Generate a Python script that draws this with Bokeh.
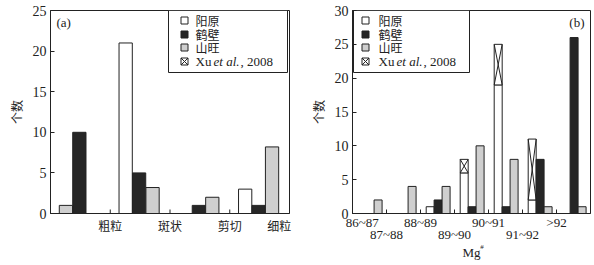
import numpy as np
from bokeh.plotting import figure
from bokeh.models import FixedTicker, Range1d, Label, LinearAxis
from bokeh.layouts import row
from bokeh.embed import file_html
from bokeh.resources import INLINE
from bokeh.core.properties import value

# ---------------- data ----------------
# panel (a): texture classes
cats_a = ["粗粒", "斑状", "剪切", "细粒"]
yang_a = [0, 21, 0, 3]        # 阳原
hebi_a = [10, 5, 1, 1]        # 鹤壁
shan_a = [1, 3.2, 2, 8.2]     # 山旺
yticks_a = [0, 5, 10, 15, 20, 25]

# panel (b): Mg# classes
cats_b = ["86~87", "87~88", "88~89", "89~90", "90~91", "91~92", ">92"]
yang_b = [0, 0, 1, 6, 19, 2, 0]     # 阳原
xu_b = [0, 0, 0, 2, 6, 9, 0]        # Xu et al., 2008 (stacked on 阳原)
hebi_b = [0, 0, 2, 1, 1, 8, 26]     # 鹤壁
shan_b = [2, 4, 4, 10, 8, 1, 1]     # 山旺
yticks_b = [0, 5, 10, 15, 20, 25, 30]

series = ["阳原", "鹤壁", "山旺"]
ylabel = "个数"
xlabel_b = "Mg"
xlabel_b_sup = "#"

# ---------------- style ----------------
INK = "#222222"
WHITE = "#ffffff"
BLACK = "#262626"
GRAY = "#cfcfcf"
SERIF = "Liberation Serif"
CJK = "Noto Sans CJK SC"
TOP = 10
FH = 203
BOT = 52
H = TOP + FH + BOT


def style_xaxis(ax):
    ax.major_tick_in = 0
    ax.major_tick_out = 0
    ax.major_tick_line_color = None
    ax.minor_tick_line_color = None
    ax.major_label_text_color = INK


def base_fig(width, nx, ymax, yticks, bl, br, ystand):
    p = figure(width=width, height=H, output_backend="svg", toolbar_location=None,
               x_range=Range1d(0, nx), y_range=Range1d(0, ymax),
               min_border_left=bl, min_border_right=br, min_border_top=TOP,
               min_border_bottom=BOT)
    p.grid.visible = False
    p.outline_line_color = INK
    p.outline_line_width = 1
    p.background_fill_color = WHITE
    p.border_fill_color = WHITE
    ya = p.yaxis[0]
    ya.ticker = FixedTicker(ticks=yticks, minor_ticks=[])
    ya.major_tick_in = 4
    ya.major_tick_out = 0
    ya.major_tick_line_color = INK
    ya.minor_tick_line_color = None
    ya.axis_line_color = INK
    ya.major_label_standoff = 4
    ya.major_label_text_font = SERIF
    ya.major_label_text_font_size = "14px"
    ya.major_label_text_color = INK
    ya.axis_label = ylabel
    ya.axis_label_text_font = CJK
    ya.axis_label_text_font_size = "12px"
    ya.axis_label_text_font_style = "normal"
    ya.axis_label_text_color = INK
    ya.axis_label_standoff = ystand
    xa = p.xaxis[0]
    style_xaxis(xa)
    xa.axis_line_color = INK
    # inward tick marks at the class boundaries
    bx = list(range(1, nx))
    tl = ymax * 4.0 / FH
    p.segment(x0=bx, y0=[0] * len(bx), x1=bx, y1=[tl] * len(bx), line_color=INK, line_width=1)
    return p


def bars(p, xs, vals, width, fill, bottoms=None):
    if bottoms is None:
        bottoms = [0] * len(vals)
    keep = [i for i, v in enumerate(vals) if v > 0]
    p.vbar(x=[xs[i] for i in keep], top=[bottoms[i] + vals[i] for i in keep],
           bottom=[bottoms[i] for i in keep], width=width,
           fill_color=fill, line_color=INK, line_width=1)


def legend(p, fw, nx, ymax, box, mark_x, text_x, rows):
    X = lambda px: px / fw * nx
    Y = lambda py: ymax * (1 - py / FH)
    p.quad(left=[X(box[0])], right=[X(box[1])], top=[Y(box[2])], bottom=[Y(box[3])],
           fill_color=WHITE, line_color=INK, line_width=1)
    p.scatter(x=[X(mark_x)] * 4, y=[Y(r) for r in rows],
              marker=["square", "square", "square", "square_x"], size=7,
              fill_color=[WHITE, BLACK, GRAY, WHITE], line_color=INK, line_width=1)
    p.text(x=[X(text_x)] * 3, y=[Y(r) for r in rows[:3]], text=series,
           text_font=value(CJK), text_font_size="12px", text_color=INK,
           text_baseline="middle", text_align="left")
    for t, off, st in [("Xu", 0, "normal"), ("et al.", 18, "italic"), (", 2008", 45, "normal")]:
        p.text(x=[X(text_x)], y=[Y(rows[3])], text=[t], x_offset=off,
               text_font=value(SERIF), text_font_size="13px", text_font_style=st,
               text_color=INK, text_baseline="middle", text_align="left")


# ---------------- panel (a) ----------------
FWA = 239
na = len(cats_a)
pa = base_fig(294, na, 25, yticks_a, 50, 294 - 50 - FWA, 5)
SLOT_A = [0.258, 0.483, 0.708]
WA = 0.222
gx = np.arange(na)
bars(pa, list(gx + SLOT_A[0]), yang_a, WA, WHITE)
bars(pa, list(gx + SLOT_A[1]), hebi_a, WA, BLACK)
shan_x_a = list(gx + SLOT_A[2])
shan_x_a[0] = 0 + SLOT_A[0]   # in the source figure the first 山旺 bar sits in the first slot
bars(pa, shan_x_a, shan_a, WA, GRAY)
# class labels at the right boundary of each class (last one pulled inside the frame)
lab_pos_a = [float(i + 1) for i in range(na)]
lab_pos_a[-1] = na - 0.17
xa = pa.xaxis[0]
xa.ticker = FixedTicker(ticks=lab_pos_a, minor_ticks=[])
xa.major_label_overrides = {t: c for t, c in zip(lab_pos_a, cats_a)}
xa.major_label_standoff = 3
xa.major_label_text_font = CJK
xa.major_label_text_font_size = "12px"
legend(pa, FWA, na, 25, (118, 237, 0, 62), 134, 145, [10, 24, 37, 51])
pa.add_layout(Label(x=6, y=FH - 12, x_units="screen", y_units="screen", text="(a)",
                    text_font=SERIF, text_font_size="13px", text_color=INK,
                    text_baseline="middle", text_align="left"))

# ---------------- panel (b) ----------------
FWB = 238
nb = len(cats_b)
pb = base_fig(298, nb, 30, yticks_b, 58, 298 - 58 - FWB, 5)
SLOT_B = [0.285, 0.5175, 0.7525]
WB = 0.235
gxb = np.arange(nb)
bars(pb, list(gxb + SLOT_B[0]), yang_b, WB, WHITE)
bars(pb, list(gxb + SLOT_B[0]), xu_b, WB, WHITE, bottoms=yang_b)
bars(pb, list(gxb + SLOT_B[1]), hebi_b, WB, BLACK)
bars(pb, list(gxb + SLOT_B[2]), shan_b, WB, GRAY)
# X marks on the Xu et al. segments
x0s, y0s, x1s, y1s = [], [], [], []
for i, (b, v) in enumerate(zip(yang_b, xu_b)):
    if v > 0:
        l, r = i + SLOT_B[0] - WB / 2, i + SLOT_B[0] + WB / 2
        x0s += [l, l]; x1s += [r, r]
        y0s += [b, b + v]; y1s += [b + v, b]
pb.segment(x0=x0s, y0=y0s, x1=x1s, y1=y1s, line_color=INK, line_width=1)

# class labels at the left boundary of each class, staggered in two rows
lab_pos_b = [float(i) for i in range(nb)]
lab_pos_b[0] = 0.29
row1 = [i for i in range(nb) if i % 2 == 0]
row2 = [i for i in range(nb) if i % 2 == 1]
xb = pb.xaxis[0]
xb.ticker = FixedTicker(ticks=[lab_pos_b[i] for i in row1], minor_ticks=[])
xb.major_label_overrides = {lab_pos_b[i]: cats_b[i] for i in row1}
xb.major_label_standoff = 1
xb.major_label_text_font = SERIF
xb.major_label_text_font_size = "13px"

# small superscript mark after "Mg" (own axis row, sits beside the "Mg" title)
sup_x = 129.5 / FWB * nb
xbs = LinearAxis(ticker=FixedTicker(ticks=[sup_x], minor_ticks=[]),
                 major_label_overrides={sup_x: xlabel_b_sup})
style_xaxis(xbs)
xbs.axis_line_color = None
xbs.major_label_standoff = 10
xbs.major_label_text_font = SERIF
xbs.major_label_text_font_size = "7px"
pb.add_layout(xbs, "below")

xb2 = LinearAxis(ticker=FixedTicker(ticks=[lab_pos_b[i] for i in row2], minor_ticks=[]),
                 major_label_overrides={lab_pos_b[i]: cats_b[i] for i in row2})
style_xaxis(xb2)
xb2.axis_line_color = None
xb2.major_label_standoff = -27
xb2.major_label_text_font = SERIF
xb2.major_label_text_font_size = "13px"
xb2.axis_label = xlabel_b
xb2.axis_label_text_font = SERIF
xb2.axis_label_text_font_size = "13px"
xb2.axis_label_text_font_style = "normal"
xb2.axis_label_text_color = INK
xb2.axis_label_standoff = 0
pb.add_layout(xb2, "below")

legend(pb, FWB, nb, 30, (1, 117, 0, 62), 13, 26, [10, 24, 37, 51])
pb.add_layout(Label(x=FWB - 6, y=FH - 12, x_units="screen", y_units="screen", text="(b)",
                    text_font=SERIF, text_font_size="13px", text_color=INK,
                    text_baseline="middle", text_align="right"))

layout = row(pa, pb)
open("out.html", "w").write(file_html(layout, INLINE))
